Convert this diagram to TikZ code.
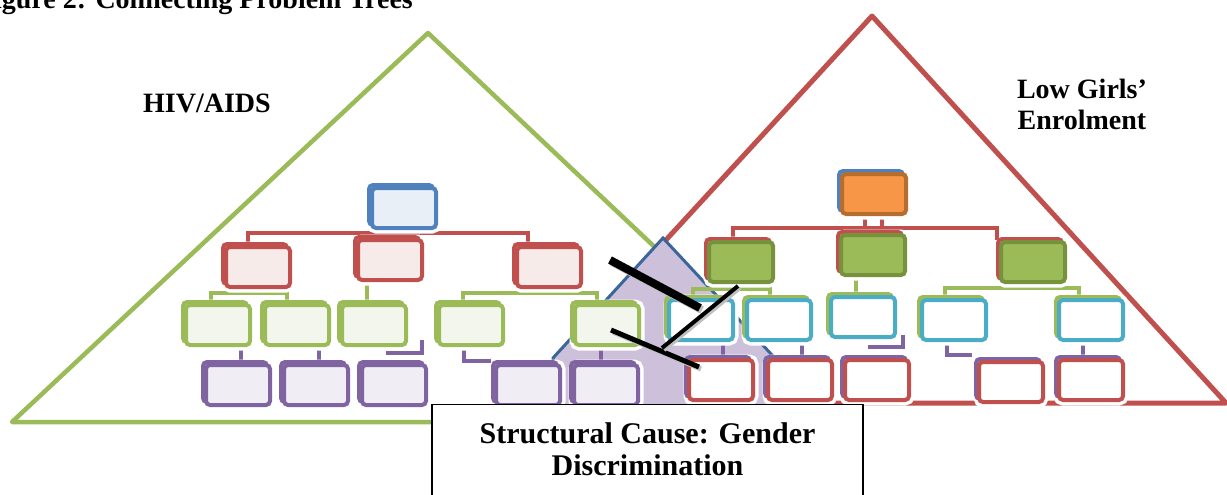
\documentclass[tikz,border=0pt]{standalone}
\usepackage{fontspec}
\setmainfont{Liberation Serif}
\usetikzlibrary{calc,backgrounds}
\definecolor{cgreen}{HTML}{9BBB59}
\definecolor{fgreen}{HTML}{F2F6EC}
\definecolor{cred}{HTML}{C0504D}
\definecolor{fred}{HTML}{F7EBEA}
\definecolor{cblue}{HTML}{4F81BD}
\definecolor{fblue}{HTML}{E9EFF7}
\definecolor{cpurple}{HTML}{8064A2}
\definecolor{fpurple}{HTML}{F0EEF4}
\definecolor{ccyan}{HTML}{4BACC6}
\definecolor{corange}{HTML}{B66D30}
\definecolor{forange}{HTML}{F79646}
\definecolor{colive}{HTML}{76923C}
\definecolor{clav}{HTML}{CCC0DA}
\definecolor{cdeep}{HTML}{3C659A}
\tikzset{
  tbox/.style 2 args={draw=#1, fill=#2, line width=4pt, rounded corners=4pt,
    minimum width=64pt, minimum height=40pt, inner sep=0pt,
    preaction={draw=white, line width=11pt}},
  ghost/.style={preaction={draw=#1, line width=4pt,
    transform canvas={shift={(-3pt,3pt)}}}},
  bluebox/.style={tbox={cblue}{fblue}, ghost=cblue},
  redbox/.style={tbox={cred}{fred}, ghost=cred},
  greenbox/.style={tbox={cgreen}{fgreen}, ghost=cgreen},
  purplebox/.style={tbox={cpurple}{fpurple}, ghost=cpurple},
  orangebox/.style={tbox={corange}{forange}, ghost=cblue},
  olivebox/.style={tbox={colive}{cgreen}, ghost=cred},
  cyanbox/.style={tbox={ccyan}{white}, ghost=cgreen},
  whitebox/.style={tbox={cred}{white}, ghost=cpurple},
  rcon/.style={draw=cred, line width=4pt},
  gcon/.style={draw=cgreen, line width=4pt},
  pcon/.style={draw=cpurple, line width=4pt},
  lbl/.style={font=\bfseries\fontsize{28pt}{31pt}\selectfont, inner sep=0pt},
  cutline/.style={draw=black, line width=#1,
    preaction={draw=black!25, line width=#1, transform canvas={shift={(2pt,-2pt)}}}},
}
\begin{document}
\begin{tikzpicture}[x=1pt,y=-1pt]
\useasboundingbox (0,0) rectangle (1227,495);
\begin{scope}[on background layer]
\draw[cgreen, line width=4.5pt, line join=round] (428,33) -- (840,422) -- (12,422) -- cycle;
\draw[cred, line width=5pt, line join=round] (872,16) -- (1226,403) -- (516,403) -- cycle;
\draw[fill=clav, draw=cdeep, line width=3pt] (663,238) -- (772,355) -- (772,412)
  -- (553,412) -- (553,358) -- cycle;
\end{scope}
\node[lbl, anchor=base east] (title) at (413,9) {Figure 2: Connecting Problem Trees};
\node[lbl, anchor=base] (hiv) at (207,113) {HIV/AIDS};
\node[lbl, align=center] (girls) at (1082,104) {Low Girls'\\Enrolment};

% left tree
\node[bluebox] (ltop) at (404,208) {};
\node[redbox] (lr1) at (258,267) {};
\node[redbox] (lr2) at (390,260) {};
\node[redbox] (lr3) at (549,267) {};
\node[greenbox] (lg1) at (218,325) {};
\node[greenbox] (lg2) at (297,325) {};
\node[greenbox] (lg3) at (374,325) {};
\node[greenbox] (lg4) at (471,325) {};
\node[greenbox] (lg5) at (607,325) {};
\node[purplebox] (lp1) at (238,385) {};
\node[purplebox] (lp2) at (316,385) {};
\node[purplebox] (lp3) at (394,385) {};
\node[purplebox] (lp4) at (528,385) {};
\node[purplebox] (lp5) at (606,385) {};

% right tree
\node[orangebox] (rtop) at (874,194) {};
\node[olivebox] (rg1) at (741,262) {};
\node[olivebox] (rg2) at (873,255) {};
\node[olivebox] (rg3) at (1033,262) {};
\node[cyanbox] (rc1) at (701,320) {};
\node[cyanbox] (rc2) at (779,320) {};
\node[cyanbox] (rc3) at (863,317) {};
\node[cyanbox] (rc4) at (954,320) {};
\node[cyanbox] (rc5) at (1091,320) {};
\node[whitebox] (rr1) at (721,380) {};
\node[whitebox] (rr2) at (800,380) {};
\node[whitebox] (rr3) at (877,380) {};
\node[whitebox] (rr4) at (1011,382) {};
\node[whitebox] (rr5) at (1091,380) {};

\begin{scope}[on background layer]
\draw[rcon] ([xshift=-10pt]lr1.north) |- ($(ltop.south)+(0,3)$) -| ([xshift=-21pt]lr3.north);
\draw[gcon] ([xshift=-7pt]lg1.north) |- ($(lr1.south)+(0,4)$) -| ([xshift=-10pt]lg2.north);
\draw[gcon] ([xshift=-7pt]lg3.north) -- ([xshift=-7pt]lg3.north |- lr2.south);
\draw[gcon] ([xshift=-8pt]lg4.north) |- ($(lr3.south)+(0,4)$) -| ([xshift=-10pt]lg5.north);
\draw[pcon] ([xshift=3pt]lp1.north) -- ([xshift=3pt]lp1.north |- lg1.south);
\draw[pcon] ([xshift=3pt]lp2.north) -- ([xshift=3pt]lp2.north |- lg2.south);
\draw[pcon] ($(lg3.south east)+(14,-7)$) |- ($(lp3.north)+(-8,-10)$);
\draw[pcon] ([xshift=-7pt]lg4.south) |- ($(lp4.north west)+(-3,-2)$);
\draw[pcon] ([xshift=-5pt]lp5.north) -- ([xshift=-5pt]lp5.north |- lg5.south);

\draw[rcon] ([xshift=-9pt]rtop.south) -- ([xshift=-9pt]rtop.south |- rg2.north);
\draw[rcon] ([xshift=8pt]rtop.south) -- ([xshift=8pt]rtop.south |- rg2.north);
\draw[rcon] ([xshift=-8pt]rg1.north) |- ($(rtop.south)+(0,12)$) -| ([xshift=-36pt]rg3.north);
\draw[gcon] ([xshift=-8pt]rc1.north) |- ($(rg1.south)+(0,5)$) -| ([xshift=-9pt]rc2.north);
\draw[gcon] ([xshift=-7pt]rc3.north) -- ([xshift=-7pt]rc3.north |- rg2.south);
\draw[gcon] ([xshift=-9pt]rc4.north) |- ($(rg3.south)+(0,4)$) -| ([xshift=-12pt]rc5.north);
\draw[pcon] ([xshift=2pt]rr1.north) -- ([xshift=2pt]rr1.north |- rc1.south);
\draw[pcon] ([xshift=2pt]rr2.north) -- ([xshift=2pt]rr2.north |- rc2.south);
\draw[pcon] ($(rc3.south east)+(6,-4)$) |- ($(rr3.north)+(-9,-11)$);
\draw[pcon] ([xshift=-7pt]rc4.south) |- ($(rr4.north west)+(-5,-5)$);
\draw[pcon] ([xshift=-8pt]rr5.north) -- ([xshift=-8pt]rr5.north |- rc5.south);
\end{scope}

% the cut between the trees
\coordinate (k1a) at (610,260);
\coordinate (k1b) at (700,308);
\coordinate (k2a) at (611,330);
\coordinate (k2b) at (699,367);
\coordinate (k3a) at (738,286);
\coordinate (k3b) at (662,348);
\draw[cutline=8pt] (k1a) -- (k1b);
\draw[cutline=5pt] (k2a) -- (k2b);
\draw[cutline=4pt] (k3a) -- (k3b);

\node[draw, fill=white, line width=1.3pt, anchor=north, minimum width=431pt,
  minimum height=120pt] (causebox) at (647.5,404) {};
\node[align=center, inner sep=0pt, font=\bfseries\fontsize{30pt}{32pt}\selectfont]
  (cause) at (647.5,449) {Structural Cause: Gender\\Discrimination};
\end{tikzpicture}
\end{document}
